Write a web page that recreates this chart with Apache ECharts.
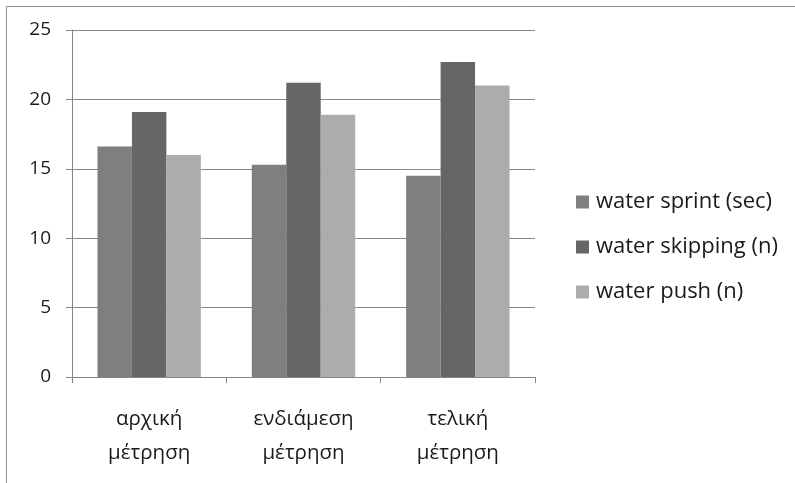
<!DOCTYPE html>
<html>
<head>
<meta charset="utf-8">
<script src="https://cdn.jsdelivr.net/npm/echarts@6/dist/echarts.min.js"></script>
<style>html,body{margin:0;padding:0;background:#fff}#c{width:795px;height:483px}</style>
</head>
<body>
<div id="c"></div>
<script>
const categories = ['αρχική\nμέτρηση', 'ενδιάμεση\nμέτρηση', 'τελική\nμέτρηση'];
const seriesNames = ['water sprint (sec)', 'water skipping (n)', 'water push (n)'];
const sprint = [16.6, 15.3, 14.5];
const skipping = [19.1, 21.2, 22.7];
const push = [16.0, 18.9, 21.0];
const yTicks = [0, 5, 10, 15, 20, 25];

const colors = ['#7f7f7f', '#666666', '#acacac'];
const font = 'Open Sans';
const chart = echarts.init(document.getElementById('c'));
chart.setOption({
  animation: false,
  color: colors,
  graphic: [{
    type: 'rect', shape: {x: 6.5, y: 6.5, width: 900, height: 900},
    style: {fill: 'none', stroke: '#8c8c8c', lineWidth: 1}, silent: true
  }],
  grid: {left: 72, right: 260, top: 30, bottom: 106},
  legend: {
    orient: 'vertical', left: 571, top: 186, itemWidth: 13, itemHeight: 13, itemGap: 23,
    icon: 'rect',
    textStyle: {fontFamily: font, fontSize: 22, color: '#1a1a1a', padding: [0, 0, 0, 2]},
    data: seriesNames
  },
  xAxis: {
    type: 'category', data: categories,
    axisLine: {lineStyle: {color: '#868686'}},
    axisTick: {show: true, length: 6, lineStyle: {color: '#868686'}, alignWithLabel: false},
    axisLabel: {fontFamily: font, fontSize: 20.5, color: '#1a1a1a', lineHeight: 34, margin: 25, interval: 0}
  },
  yAxis: {
    type: 'value', min: yTicks[0], max: yTicks[yTicks.length - 1], interval: 5,
    axisLine: {show: true, lineStyle: {color: '#868686'}},
    axisTick: {show: true, length: 6, lineStyle: {color: '#868686'}},
    splitLine: {lineStyle: {color: '#868686'}},
    axisLabel: {fontFamily: font, fontSize: 19, color: '#1a1a1a', margin: 21}
  },
  series: [
    {name: seriesNames[0], type: 'bar', data: sprint, barGap: '0%', barCategoryGap: '33%'},
    {name: seriesNames[1], type: 'bar', data: skipping, barGap: '0%', barCategoryGap: '33%'},
    {name: seriesNames[2], type: 'bar', data: push, barGap: '0%', barCategoryGap: '33%'}
  ]
});
</script>
</body>
</html>
